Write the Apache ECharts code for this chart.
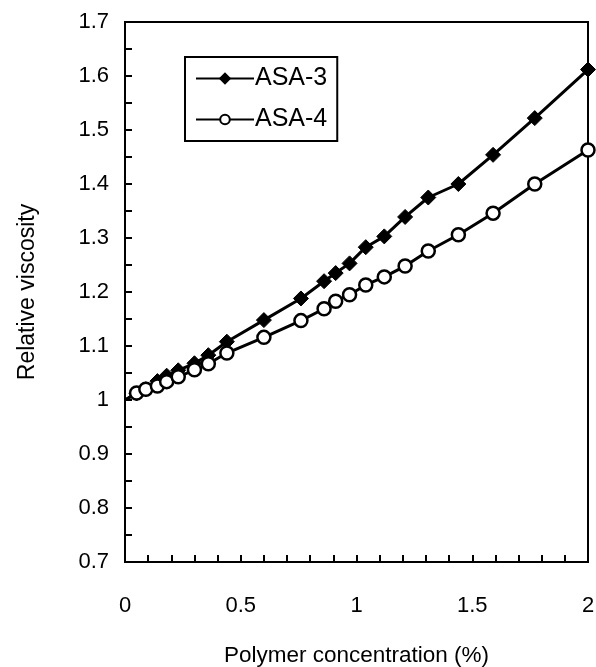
<!DOCTYPE html>
<html>
<head>
<meta charset="utf-8">
<script src="https://cdn.jsdelivr.net/npm/echarts@6/dist/echarts.min.js"></script>
<style>
  html, body { margin: 0; padding: 0; background: #fff; }
  #chart { width: 596px; height: 667px; }
</style>
</head>
<body>
<div id="chart"></div>
<script>
// polymer concentration (%)
var conc = [0, 0.05, 0.09, 0.14, 0.18, 0.23, 0.30, 0.36, 0.44, 0.60, 0.76, 0.86, 0.91, 0.97, 1.04, 1.12, 1.21, 1.31, 1.44, 1.59, 1.77, 2.00];
// relative viscosity
var asa3 = [1.000, 1.012, 1.020, 1.035, 1.045, 1.055, 1.068, 1.083, 1.108, 1.148, 1.188, 1.220, 1.235, 1.253, 1.283, 1.303, 1.339, 1.375, 1.400, 1.454, 1.522, 1.612];
var asa4 = [1.000, 1.013, 1.020, 1.026, 1.034, 1.043, 1.056, 1.067, 1.087, 1.116, 1.147, 1.169, 1.183, 1.195, 1.213, 1.228, 1.248, 1.276, 1.306, 1.346, 1.400, 1.463];

// the origin point (0, 1) only anchors the line, no marker drawn there
function pairs(xs, ys) {
    return xs.map(function (x, i) {
        var item = { value: [x, ys[i]] };
        if (x === 0) item.symbol = 'none';
        return item;
    });
}

var chart = echarts.init(document.getElementById('chart'));
var font = 'Liberation Sans, Arial, sans-serif';

var option = {
    animation: false,
    textStyle: { fontFamily: font, color: '#000' },
    grid: {
        left: 125, right: 8, top: 22, bottom: 105,
        outerBoundsMode: 'none',
        show: true, borderColor: '#000', borderWidth: 2
    },
    legend: {
        orient: 'vertical',
        left: 185, top: 57,
        padding: [9, 10, 9, 10],
        itemGap: 16,
        itemWidth: 58, itemHeight: 12,
        borderColor: '#000', borderWidth: 2,
        textStyle: { fontFamily: font, fontSize: 25, color: '#000', padding: [0, 0, 0, -4] },
        data: ['ASA-3', 'ASA-4']
    },
    xAxis: {
        type: 'value',
        min: 0, max: 2, interval: 0.5,
        name: 'Polymer concentration (%)',
        nameLocation: 'middle', nameGap: 82,
        nameTextStyle: { fontFamily: font, fontSize: 22.5, color: '#000' },
        axisLine: { lineStyle: { color: '#000', width: 2 } },
        axisTick: { inside: true, length: 7, lineStyle: { color: '#000', width: 2 } },
        minorTick: { show: true, splitNumber: 5, length: 7, lineStyle: { color: '#000', width: 2 } },
        axisLabel: { fontFamily: font, fontSize: 22, color: '#000', margin: 33 },
        splitLine: { show: false }
    },
    yAxis: {
        type: 'value',
        min: 0.7, max: 1.7, interval: 0.1,
        name: 'Relative viscosity',
        nameLocation: 'middle', nameGap: 86,
        nameTextStyle: { fontFamily: font, fontSize: 23, color: '#000' },
        axisLine: { lineStyle: { color: '#000', width: 2 } },
        axisTick: { inside: true, length: 7, lineStyle: { color: '#000', width: 2 } },
        minorTick: { show: true, splitNumber: 2, length: 7, lineStyle: { color: '#000', width: 2 } },
        axisLabel: {
            fontFamily: font, fontSize: 22, color: '#000', margin: 16,
            formatter: function (v) { return String(Math.round(v * 10) / 10); }
        },
        splitLine: { show: false }
    },
    series: [
        {
            name: 'ASA-3',
            type: 'line',
            data: pairs(conc, asa3),
            symbol: 'diamond',
            symbolSize: 15,
            lineStyle: { color: '#000', width: 3 },
            itemStyle: { color: '#000', borderColor: '#000', borderWidth: 1 },
            z: 3
        },
        {
            name: 'ASA-4',
            type: 'line',
            data: pairs(conc, asa4),
            symbol: 'circle',
            symbolSize: 13,
            lineStyle: { color: '#000', width: 3 },
            itemStyle: { color: '#fff', borderColor: '#000', borderWidth: 2.5 },
            z: 4
        }
    ]
};

chart.setOption(option);
</script>
</body>
</html>
